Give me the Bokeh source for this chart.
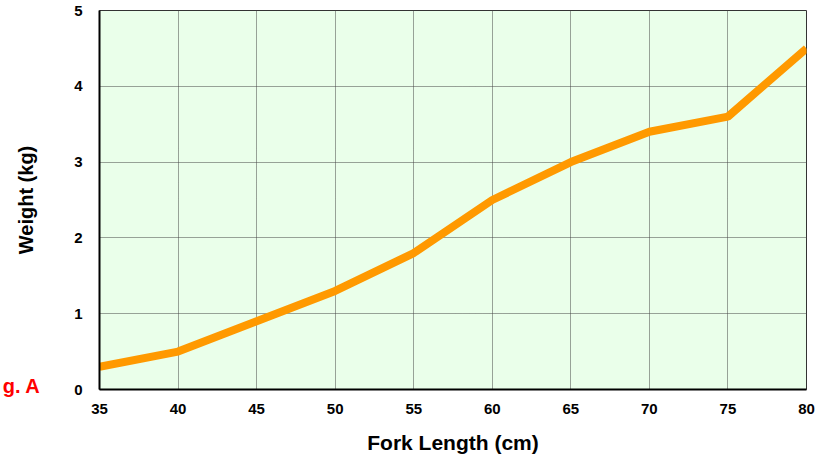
from bokeh.plotting import figure
from bokeh.models import Range1d, FixedTicker, LinearAxis, CustomJSTickFormatter
from bokeh.embed import file_html
from bokeh.resources import INLINE

fork_length = [35, 40, 45, 50, 55, 60, 65, 70, 75, 80]
weight = [0.30, 0.50, 0.90, 1.30, 1.80, 2.50, 3.00, 3.40, 3.60, 4.50]
x_ticks = [35, 40, 45, 50, 55, 60, 65, 70, 75, 80]
y_ticks = [0, 1, 2, 3, 4, 5]
fig_label = "g. A"

p = figure(width=822, height=456, output_backend="svg", toolbar_location=None,
           x_range=Range1d(35, 80), y_range=Range1d(0, 5),
           min_border_left=99, min_border_right=16, min_border_top=10, min_border_bottom=67)
p.background_fill_color = "#eaffea"
p.border_fill_color = "white"
p.outline_line_color = "#333333"
p.outline_line_width = 1

p.line(fork_length, weight, line_color="#ff9900", line_width=8)

for ax in (p.xaxis, p.yaxis):
    ax.major_tick_in = 0
    ax.major_tick_out = 0
    ax.minor_tick_in = 0
    ax.minor_tick_out = 0
    ax.axis_line_color = "black"
    ax.axis_line_width = 2
    ax.major_label_text_font = "Liberation Sans"
    ax.major_label_text_font_style = "bold"
    ax.major_label_text_font_size = "15px"
    ax.major_label_text_color = "black"
    ax.axis_label_text_font = "Liberation Sans"
    ax.axis_label_text_font_style = "bold"
    ax.axis_label_text_color = "black"

p.xaxis.ticker = FixedTicker(ticks=x_ticks)
p.yaxis.ticker = FixedTicker(ticks=y_ticks)
p.xaxis.axis_label = "Fork Length (cm)"
p.xaxis.axis_label_text_font_size = "21px"
p.xaxis.major_label_standoff = 14
p.yaxis.major_label_standoff = 17
p.xaxis.axis_label_standoff = 14

# outer left axis: carries the red figure tag and the y-axis title
outer = LinearAxis(ticker=FixedTicker(ticks=[0.04]),
                   formatter=CustomJSTickFormatter(code="return '%s';" % fig_label),
                   axis_line_color=None, major_tick_in=0, major_tick_out=0,
                   minor_tick_in=0, minor_tick_out=0,
                   major_label_standoff=31,
                   major_label_text_font="Liberation Sans", major_label_text_font_style="bold",
                   major_label_text_font_size="20px", major_label_text_color="#ff0000",
                   axis_label="Weight (kg)", axis_label_standoff=-37,
                   axis_label_text_font="Liberation Sans", axis_label_text_font_style="bold",
                   axis_label_text_font_size="20px", axis_label_text_color="black")
p.add_layout(outer, "left")

for g in (p.xgrid, p.ygrid):
    g.grid_line_color = "#444444"
    g.grid_line_dash = "1 1"
    g.grid_line_width = 1

open("out.html", "w").write(file_html(p, INLINE))
